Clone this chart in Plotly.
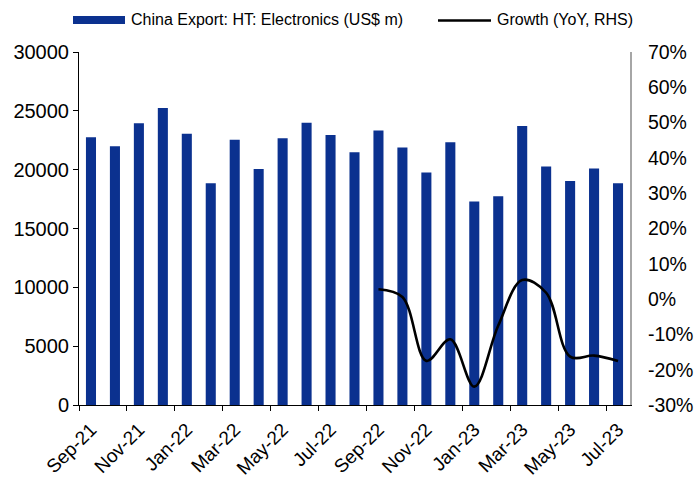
import plotly.graph_objects as go

# Monthly China high-tech electronics exports (US$ m) and YoY growth
months = ["Sep-21", "Oct-21", "Nov-21", "Dec-21", "Jan-22", "Feb-22", "Mar-22",
          "Apr-22", "May-22", "Jun-22", "Jul-22", "Aug-22", "Sep-22", "Oct-22",
          "Nov-22", "Dec-22", "Jan-23", "Feb-23", "Mar-23", "Apr-23", "May-23",
          "Jun-23", "Jul-23"]
exports = [22750, 22000, 23950, 25250, 23050, 18850, 22550, 20050, 22680, 23980,
           22950, 21480, 23330, 21880, 19750, 22330, 17300, 17750, 23720, 20270,
           19030, 20100, 18850]
growth_months = months[12:]
growth = [0.028, 0.006, -0.175, -0.114, -0.248, -0.075, 0.054, 0.018, -0.163,
          -0.160, -0.175]

# Right-hand axis ticks (percent), written with a plain hyphen
pct_ticks = [-0.3, -0.2, -0.1, 0.0, 0.1, 0.2, 0.3, 0.4, 0.5, 0.6, 0.7]
pct_text = [f"{round(v * 100)}%" for v in pct_ticks]

bar_name = "China Export: HT: Electronics (US$ m)"
line_name = "Growth (YoY, RHS)"

BLUE = "#0B318F"
FONT = "Liberation Sans, Arial, sans-serif"

W, H = 695, 477
L, R, T, B = 79, 65, 52, 72
pw, ph = W - L - R, H - T - B

idx = {m: i for i, m in enumerate(months)}
x_bar = [idx[m] for m in months]
x_line = [idx[m] for m in growth_months]

fig = go.Figure()
fig.add_trace(go.Bar(x=x_bar, y=exports, name=bar_name, marker_color=BLUE,
                     marker_line_width=0, showlegend=False))
fig.add_trace(go.Scatter(x=x_line, y=growth, name=line_name, yaxis="y2",
                         mode="lines", line=dict(color="black", width=2.6,
                                                 shape="spline", smoothing=1),
                         showlegend=False))

n = len(months)
xr = [-0.5, n - 0.5]
boundaries = [i - 0.5 for i in range(0, n, 2)]
label_pos = list(range(0, n, 2))

fig.update_layout(
    width=W, height=H,
    margin=dict(l=L, r=R, t=T, b=B, autoexpand=False),
    paper_bgcolor="white", plot_bgcolor="white",
    bargap=0.58,
    font=dict(family=FONT, size=20, color="black"),
    xaxis=dict(range=xr, tickvals=label_pos,
               ticktext=[months[i] for i in label_pos],
               tickangle=-45, ticks="outside", ticklen=5,
               tickcolor="rgba(0,0,0,0)", tickfont=dict(size=19),
               minor=dict(tickvals=boundaries, ticks="outside", ticklen=5,
                          tickcolor="black", showgrid=False),
               showline=True, linecolor="black", linewidth=1,
               showgrid=False, zeroline=False, automargin=False),
    yaxis=dict(range=[0, 30000], dtick=5000, tickformat="d",
               ticks="outside", ticklen=5,
               tickcolor="black", showline=True, linecolor="black",
               linewidth=1, showgrid=False, zeroline=False,
               tickfont=dict(size=20), automargin=False),
    yaxis2=dict(range=[-0.3, 0.7], tickvals=pct_ticks, ticktext=pct_text,
                overlaying="y", side="right", showline=True,
                linecolor="#A6A6A6", linewidth=2, ticks="", showgrid=False,
                zeroline=False, ticklabelstandoff=12, tickfont=dict(size=19.5),
                automargin=False),
)

# Legend drawn along the top edge
def px_x(p):
    return (p - L) / pw

def px_y(p):
    return (H - B - p) / ph

fig.add_shape(type="rect", xref="paper", yref="paper",
              x0=px_x(73), x1=px_x(125), y0=px_y(24), y1=px_y(16),
              fillcolor=BLUE, line_width=0)
fig.add_shape(type="line", xref="paper", yref="paper",
              x0=px_x(438), x1=px_x(491), y0=px_y(20.5), y1=px_y(20.5),
              line=dict(color="black", width=2.6))
fig.add_annotation(text=bar_name, xref="paper", yref="paper",
                   x=px_x(129), y=px_y(19.5), xanchor="left", yanchor="middle",
                   showarrow=False, font=dict(size=16))
fig.add_annotation(text=line_name, xref="paper", yref="paper",
                   x=px_x(495), y=px_y(19.5), xanchor="left", yanchor="middle",
                   showarrow=False, font=dict(size=16))

fig.write_html("out.html")
